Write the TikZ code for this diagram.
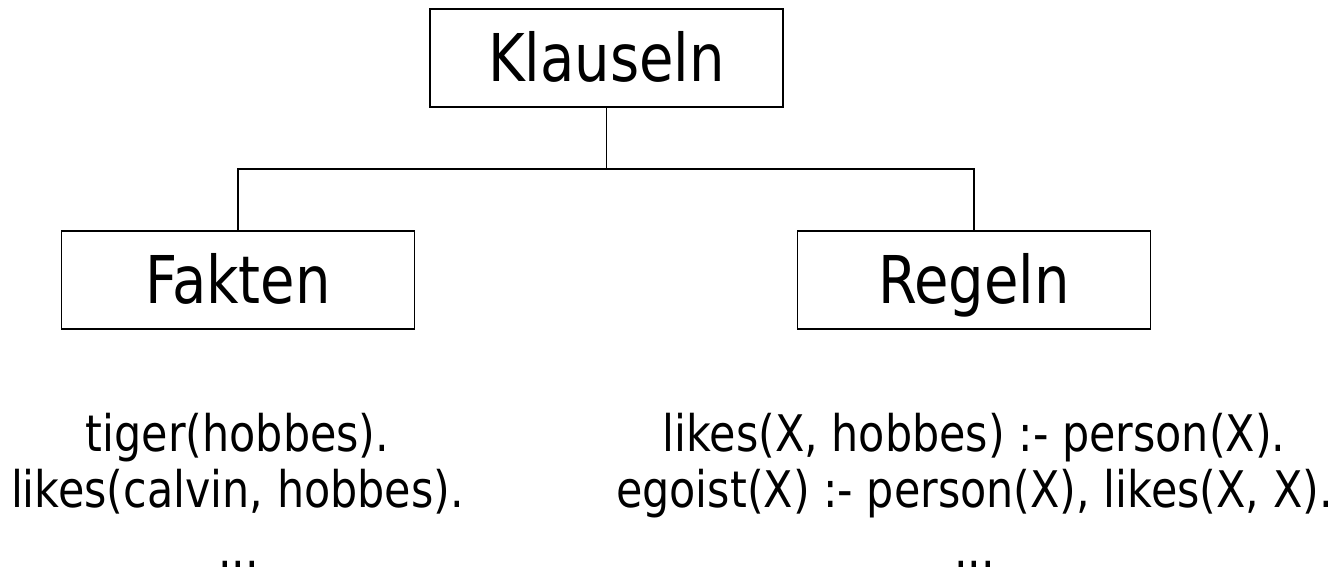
\documentclass[tikz,border=0pt]{standalone}
\usepackage{fontspec}
\setmainfont{DejaVu Sans}[FakeStretch=0.85]
\usetikzlibrary{positioning}

\begin{document}
\begin{tikzpicture}[
    box/.style={draw, line width=1pt, minimum width=7.06cm, minimum height=1.96cm,
      inner sep=0pt, text height=27.3pt, text depth=0pt, font=\fontsize{37.5}{45}\selectfont},
    clause/.style={anchor=base, inner sep=0pt, font=\fontsize{28.7}{34}\selectfont},
    link/.style={line width=1pt}]
  \useasboundingbox (0,0) rectangle (26.84,-11.42);
  % ---- tree: clauses split into facts and rules ----
  \node[box] (klauseln) at (12.13,-1.16) {Klauseln};
  \node[box] (fakten) at (4.76,-5.60) {Fakten};
  \node[box] (regeln) at (19.48,-5.60) {Regeln};
  \coordinate (fork) at (12.13,-3.38);
  \draw[link] (klauseln.south) -- (fork);
  \draw[link] (fork) -| (fakten.north);
  \draw[link] (fork) -| (regeln.north);
  % ---- examples under each box ----
  \node[clause] (fact1) at (4.75,-9.02) {tiger(hobbes).};
  \node[clause] (fact2) at (4.75,-10.14) {likes(calvin, hobbes).};
  \node[clause] (factdots) at (4.77,-11.34) {...};
  \node[clause] (rule1) at (19.48,-9.02) {likes(X, hobbes) :- person(X).};
  \node[clause] (rule2) at (19.49,-10.14) {egoist(X) :- person(X), likes(X, X).};
  \node[clause] (ruledots) at (19.49,-11.34) {...};
\end{tikzpicture}
\end{document}
